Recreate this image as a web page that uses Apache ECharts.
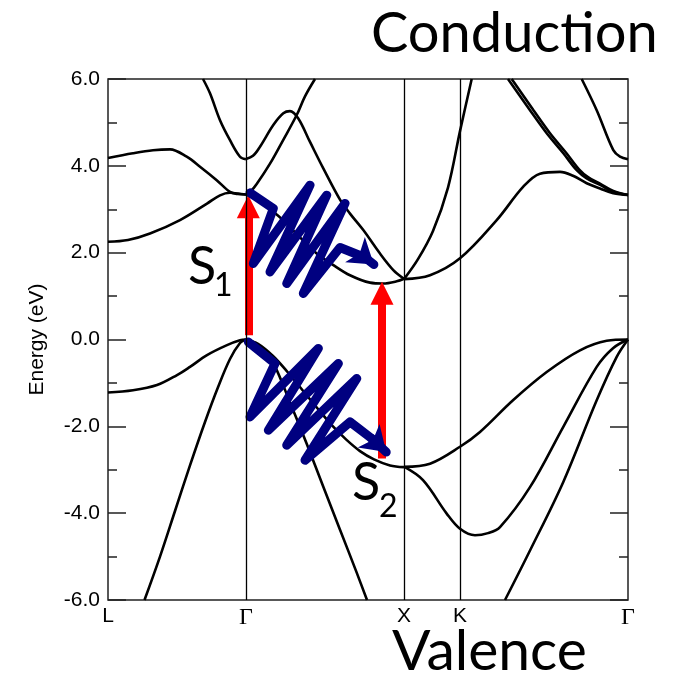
<!DOCTYPE html>
<html>
<head>
<meta charset="utf-8">
<script src="https://cdn.jsdelivr.net/npm/echarts@6/dist/echarts.min.js"></script>
<style>
  html, body { margin: 0; padding: 0; background: #fff; }
  #band { width: 689px; height: 675px; }
</style>
</head>
<body>
<div id="band"></div>
<script>
// k-path positions (path length units) and their labels
var kTicks = [0, 138, 296, 352, 520];
var kLabels = ['L', 'Γ', 'X', 'K', 'Γ'];
var symLines = [138, 296, 352];

// bands, [k, E(eV)]
// L -> Γ
var lgVb1 = [[0,-1.22],[25,-1.17],[49,-1.05],[69,-0.82],[82,-0.63],[99,-0.36],[119,-0.13],[132,-0.02],[138,0]];
var lgVb2 = [[36.5,-6.0],[52,-5.0],[67,-3.95],[82,-2.9],[97,-1.9],[110,-1.1],[122,-0.45],[132,-0.08],[138,0]];
var lgCb1 = [[0,2.25],[20,2.29],[42,2.44],[72,2.75],[99,3.13],[112,3.32],[122,3.38],[130,3.36],[138,3.34]];
var lgCb2 = [[0,4.18],[25,4.29],[45,4.36],[62,4.38],[78.7,4.21],[92,3.98],[108.7,3.67],[122,3.40],[130,3.35],[138,3.34]];
var lgCb3 = [[95,6.0],[102,5.67],[112,5.05],[122,4.59],[132,4.21],[138,4.15]];
// Γ -> X
var gxVb1 = [[138,0],[150,-0.1],[165,-0.38],[180,-0.76],[195,-1.18],[210,-1.6],[224,-1.98],[238,-2.3],[252,-2.57],[266,-2.76],[282,-2.9],[296,-2.94]];
var gxVb2 = [[138,0],[145,-0.06],[152,-0.18],[159,-0.36],[167,-0.62],[182,-1.45],[198.7,-2.40],[215.3,-3.39],[232,-4.38],[248.7,-5.37],[259,-6.0]];
var gxCb1 = [[138,3.34],[150,3.2],[165,2.95],[175,2.75],[190,2.4],[208.7,1.98],[225,1.72],[242,1.48],[262,1.31],[275,1.29],[288.7,1.34],[296,1.40]];
var gxCb2 = [[138,4.16],[145,4.23],[152,4.44],[165.3,4.94],[175.3,5.21],[182,5.26],[190.3,5.09],[202,4.55],[215.3,3.94],[232,3.22],[242,2.9],[255.3,2.52],[272,1.98],[285.3,1.60],[296,1.40]];
var gxCb3 = [[138,3.34],[143,3.42],[148.7,3.58],[162,4.05],[175.3,4.6],[188.7,5.17],[197,5.6],[207,6.0]];
// X -> K -> Γ
var xgVb1 = [[296,-2.93],[322,-2.86],[352,-2.47],[372,-2.13],[405,-1.40],[438.7,-0.75],[472,-0.25],[498.7,-0.03],[520,0]];
var xgVb2 = [[296,-2.93],[315,-3.24],[338.7,-4.01],[352,-4.36],[367,-4.51],[380,-4.46],[392,-4.32],[422,-3.40],[455.3,-2.01],[488.7,-0.63],[505,-0.2],[520,0]];
var xgVb3 = [[397,-6.0],[422,-4.86],[455.3,-3.28],[488.7,-1.40],[508.7,-0.40],[520,0]];
var xgCb1 = [[296,1.39],[322,1.48],[352,1.87],[388.7,2.75],[415.3,3.52],[432,3.82],[452,3.86],[465,3.77],[478.7,3.6],[492,3.48],[505.3,3.37],[520,3.33]];
var xgCb2 = [[296,1.39],[310,1.85],[325,2.5],[340,3.5],[352,4.8],[363.7,6.0]];
var xgCb3 = [[400,6.0],[422,5.28],[438.7,4.75],[455.3,4.29],[468.7,3.90],[478.7,3.71],[492,3.56],[505.3,3.40],[520,3.33]];
var xgCb4 = [[403.7,6.0],[425.5,5.28],[442,4.75],[458.5,4.29],[471,3.92],[480,3.74],[492,3.59],[505.3,3.42],[520,3.33]];
var xgCb5 = [[473.7,6.0],[488.7,5.28],[505.3,4.36],[512,4.21],[520,4.15]];

var bands = [lgVb1, lgVb2, lgCb1, lgCb2, lgCb3, gxVb1, gxVb2, gxCb1, gxCb2, gxCb3,
             xgVb1, xgVb2, xgVb3, xgCb1, xgCb2, xgCb3, xgCb4, xgCb5];

// excitation arrows: [tail, tip]
var redArrows = [[[140.3, 0.1], [140.3, 3.32]], [[274, -2.74], [274, 1.33]]];
// relaxation zigzags, last point is the arrow tip
var s1Path = [[142,3.378],[165.3,3.018],[145.3,1.751],[202,3.555],[162,1.558],[218.7,3.325],[178.7,1.290],[237,3.134],[195.3,1.060],[232,2.120],[257,1.889],[275.3,1.558]];
var s2Path = [[140.3,-0.055],[167,-0.553],[142,-1.783],[210.3,-0.207],[160.3,-2.090],[230.3,-0.553],[178.7,-2.435],[248.7,-0.899],[197,-2.781],[242,-1.899],[263.7,-2.281],[287,-2.781]];

var chart = echarts.init(document.getElementById('band'));
var gridW = 520, gridH = 521;
var sx = gridW / 520, sy = gridH / 12;

// move the segment end back so the arrow head tip lands on the tip point
function pullBack(from, tip, px) {
    var dx = (tip[0] - from[0]) * sx, dy = (tip[1] - from[1]) * sy;
    var len = Math.sqrt(dx * dx + dy * dy);
    return [tip[0] - dx / len * px / sx, tip[1] - dy / len * px / sy];
}

var series = [{
    type: 'line',
    data: [],
    z: 1,
    markLine: {
        silent: true,
        symbol: ['none', 'none'],
        label: { show: false },
        lineStyle: { color: '#000', width: 1.3, type: 'solid' },
        data: symLines.map(function (v) { return { xAxis: v }; })
    }
}];

bands.forEach(function (b) {
    series.push({
        type: 'line',
        data: b,
        symbol: 'none',
        smooth: 0.35,
        silent: true,
        z: 2,
        lineStyle: { color: '#000', width: 2.6 }
    });
});

series.push({
    type: 'lines',
    coordinateSystem: 'cartesian2d',
    symbol: ['none', 'triangle'],
    symbolSize: [23, 23],
    z: 3,
    lineStyle: { color: '#ff0000', width: 8, opacity: 1, curveness: 0 },
    data: redArrows.map(function (a) { return { coords: [a[0], pullBack(a[0], a[1], 11.5)] }; })
});

[s1Path, s2Path].forEach(function (p) {
    series.push({
        type: 'line',
        data: p.slice(0, -1),
        symbol: 'none',
        silent: true,
        z: 4,
        lineStyle: { color: '#000080', width: 9, cap: 'round', join: 'round' }
    });
});

series.push({
    type: 'lines',
    coordinateSystem: 'cartesian2d',
    symbol: ['none', 'arrow'],
    symbolSize: [16, 24],
    z: 4,
    lineStyle: { color: '#000080', width: 9, opacity: 1, curveness: 0, cap: 'round' },
    data: [s1Path, s2Path].map(function (p) {
        var pen = p[p.length - 2], tip = p[p.length - 1];
        return { coords: [pen, pullBack(pen, tip, 12)] };
    })
});

var option = {
    animation: false,
    grid: { left: 108, right: 61, top: 79, bottom: 75, show: true, borderColor: '#222', borderWidth: 1.5 },
    xAxis: {
        type: 'value',
        min: 0,
        max: 520,
        axisLine: { show: false },
        axisTick: { show: false },
        splitLine: { show: false },
        axisLabel: {
            customValues: kTicks,
            margin: 6,
            color: '#000',
            fontSize: 21,
            fontFamily: 'Liberation Sans',
            formatter: function (v) {
                var i = kTicks.indexOf(v);
                var t = i < 0 ? '' : kLabels[i];
                return t === 'Γ' ? '{g|Γ}' : t;
            },
            rich: { g: { fontFamily: 'Liberation Serif', fontSize: 24, color: '#000' } }
        }
    },
    yAxis: [{
        type: 'value',
        min: -6,
        max: 6,
        interval: 2,
        name: 'Energy (eV)',
        nameLocation: 'middle',
        nameGap: 60,
        nameTextStyle: { fontSize: 21, color: '#000', fontFamily: 'Liberation Sans' },
        axisLine: { show: false },
        axisTick: { show: true, inside: true, length: 18, lineStyle: { color: '#222', width: 1.5 } },
        minorTick: { show: true, splitNumber: 2, length: 9, lineStyle: { color: '#222', width: 1.5 } },
        splitLine: { show: false },
        axisLabel: {
            formatter: function (v) { return v.toFixed(1); },
            fontSize: 21,
            color: '#000',
            margin: 8,
            fontFamily: 'Liberation Sans'
        }
    }, {
        type: 'value',
        position: 'right',
        min: -6,
        max: 6,
        interval: 2,
        axisLine: { show: false },
        axisTick: { show: true, inside: true, length: 18, lineStyle: { color: '#222', width: 1.5 } },
        minorTick: { show: true, splitNumber: 2, length: 9, lineStyle: { color: '#222', width: 1.5 } },
        splitLine: { show: false },
        axisLabel: { show: false }
    }],
    graphic: [
        { type: 'text', x: 371, y: 6, style: {
            text: '{a|Conduc}{a|tion}', fill: '#000', font: '56px Lato',
            rich: { a: { fontFamily: 'Lato', fontSize: 56, color: '#000' } }
        } },
        { type: 'text', x: 392, y: 623, style: { text: 'Valence', font: '57px Lato', fill: '#000' } },
        { type: 'text', x: 188, y: 241, style: { text: 'S', font: '52px Lato', fill: '#000' } },
        { type: 'text', x: 214, y: 270, style: { text: '1', font: '32px Lato', fill: '#000' } },
        { type: 'text', x: 352, y: 457, style: { text: 'S', font: '52px Lato', fill: '#000' } },
        { type: 'text', x: 379, y: 491, style: { text: '2', font: '32px Lato', fill: '#000' } }
    ],
    series: series
};
chart.setOption(option);
</script>
</body>
</html>
